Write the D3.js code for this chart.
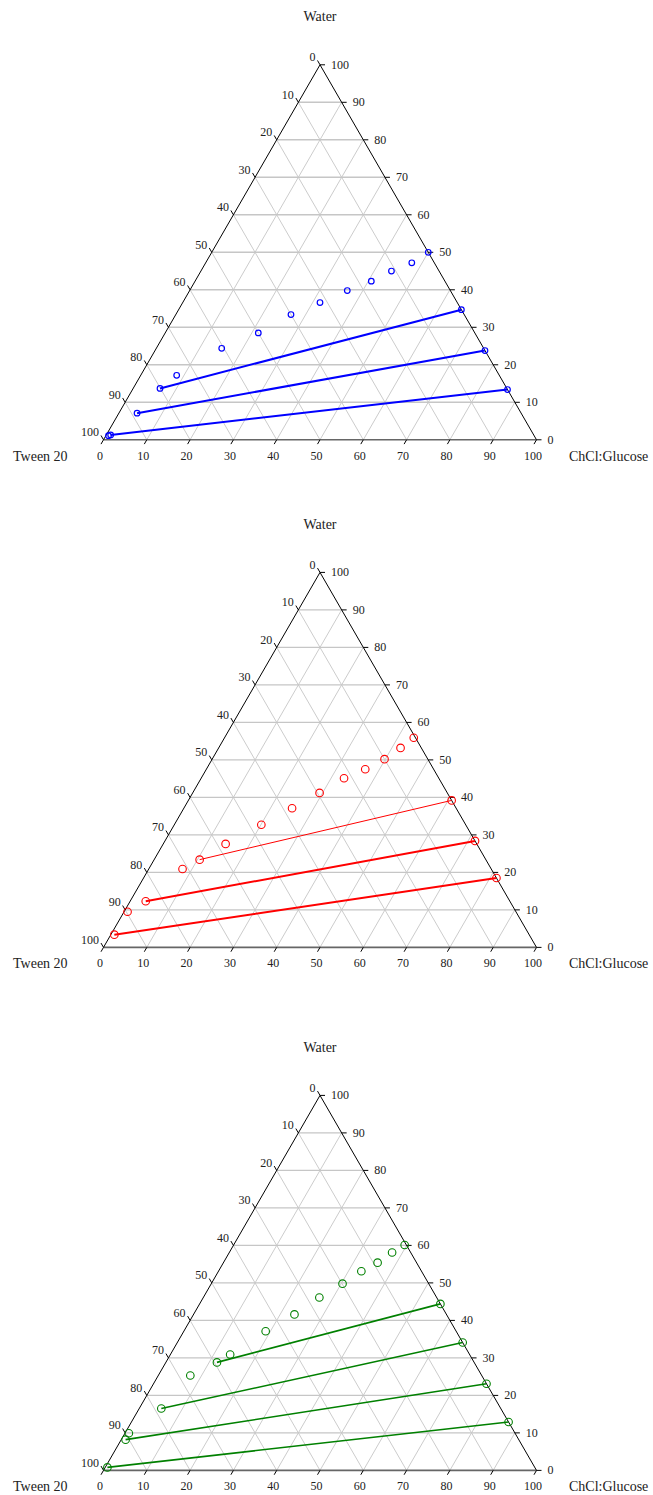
<!DOCTYPE html>
<html>
<head>
<meta charset="utf-8">
<script src="https://cdn.jsdelivr.net/npm/d3@7/dist/d3.min.js"></script>
<style>
  html, body { margin: 0; padding: 0; background: #fff; }
  svg { display: block; }
  text { font-family: "Liberation Serif", "DejaVu Serif", serif; fill: #222; }
</style>
</head>
<body>
<svg id="chart" width="653" height="1495"></svg>
<script>
// ---------- DATA (percent) ----------
const tickValues = [0, 10, 20, 30, 40, 50, 60, 70, 80, 90, 100];
const axisTitles = { top: "Water", left: "Tween 20", right: "ChCl:Glucose" };

// Plot 1 (blue) binodal points
const blueTween = [0, 5.2, 11, 17, 23.8, 31.7, 40, 50, 60.5, 74.5, 80.1, 88.7, 97.7, 98.3];
const blueChCl  = [50, 47.6, 44, 40.7, 36.4, 31.7, 26.6, 21.5, 15.1, 8.3, 6.2, 4.2, 1.0, 0.6];
const blueWater = [50, 47.2, 45, 42.3, 39.8, 36.6, 33.4, 28.5, 24.4, 17.2, 13.7, 7.1, 1.3, 1.1];
// Plot 1 tie-line ends (top phase on Water–ChCl side)
const blueTieTopTween = [0, 0, 0];
const blueTieTopChCl  = [65.3, 76.2, 86.6];
const blueTieTopWater = [34.7, 23.8, 13.4];
const blueTieBottomIndex = [10, 11, 12];
const blueTieWidth = [2, 2, 2];

// Plot 2 (red)
const redTween = [0.4, 4.8, 10.0, 15.8, 21.9, 29.5, 37.9, 47.2, 58.0, 66.1, 71.3, 84.1, 89.7, 95.8];
const redChCl  = [43.7, 42.0, 39.8, 36.7, 33.0, 29.3, 25.0, 20.1, 14.4, 10.5, 7.8, 3.6, 0.8, 0.8];
const redWater = [55.9, 53.2, 50.2, 47.5, 45.1, 41.2, 37.1, 32.7, 27.6, 23.4, 20.9, 12.3, 9.5, 3.4];
const redTieTopTween = [0, 0, 0];
const redTieTopChCl  = [60.8, 71.6, 81.5];
const redTieTopWater = [39.2, 28.4, 18.5];
const redTieBottomIndex = [9, 11, 13];
const redTieWidth = [1, 2, 2];

// Plot 3 (green)
const greenTween = [0.4, 4.3, 9.0, 13.9, 19.9, 27.1, 35.1, 44.0, 55.3, 59.4, 67.3, 78.4, 89.2, 90.8, 98.7];
const greenChCl  = [39.5, 37.6, 35.6, 33.0, 30.3, 26.8, 23.3, 18.9, 13.8, 11.8, 7.4, 5.1, 0.9, 1.0, 0.5];
const greenWater = [60.1, 58.1, 55.4, 53.1, 49.8, 46.1, 41.6, 37.1, 30.9, 28.8, 25.3, 16.5, 9.9, 8.2, 0.8];
const greenTieTopTween = [0, 0, 0, 0];
const greenTieTopChCl  = [55.6, 65.9, 76.9, 87.1];
const greenTieTopWater = [44.4, 34.1, 23.1, 12.9];
const greenTieBottomIndex = [9, 11, 13, 14];
const greenTieWidth = [1.6, 1.6, 1.6, 1.6];

// ---------- LAYOUT ----------
const svg = d3.select("#chart");
const left = 103.5, right = 536.5;
const side = right - left;
const height = side * Math.sqrt(3) / 2;

const panels = [
  { apexY: 64.8, color: "#0000ff", r: 2.8, sw: 1.2,
    tween: blueTween, chcl: blueChCl, water: blueWater,
    tt: blueTieTopTween, tc: blueTieTopChCl, tw: blueTieTopWater, ti: blueTieBottomIndex, tws: blueTieWidth },
  { apexY: 572.4, color: "#ff0000", r: 3.8, sw: 1.1,
    tween: redTween, chcl: redChCl, water: redWater,
    tt: redTieTopTween, tc: redTieTopChCl, tw: redTieTopWater, ti: redTieBottomIndex, tws: redTieWidth },
  { apexY: 1095.4, color: "#008000", r: 3.8, sw: 1.1,
    tween: greenTween, chcl: greenChCl, water: greenWater,
    tt: greenTieTopTween, tc: greenTieTopChCl, tw: greenTieTopWater, ti: greenTieBottomIndex, tws: greenTieWidth }
];

panels.forEach(p => {
  const base = p.apexY + height;
  const xs = d3.scaleLinear().domain([0, 100]).range([left, right]);
  const ys = d3.scaleLinear().domain([0, 100]).range([base, p.apexY]);
  // ternary -> cartesian (chcl, water)
  const px = (c, w) => xs(c + w / 2);
  const py = (c, w) => ys(w);
  const g = svg.append("g");

  // grid
  const grid = g.append("g");
  tickValues.filter(k => k > 0 && k < 100).forEach(k => {
    // constant ChCl
    grid.append("line")
      .attr("x1", px(k, 0)).attr("y1", py(k, 0))
      .attr("x2", px(k, 100 - k)).attr("y2", py(k, 100 - k))
      .attr("stroke", "#cccccc").attr("stroke-width", 1);
    // constant Tween
    grid.append("line")
      .attr("x1", px(100 - k, 0)).attr("y1", py(100 - k, 0))
      .attr("x2", px(0, 100 - k)).attr("y2", py(0, 100 - k))
      .attr("stroke", "#cccccc").attr("stroke-width", 1);
  });
  tickValues.filter(k => k > 0 && k < 100).forEach(k => {
    // constant Water (horizontal)
    grid.append("line")
      .attr("x1", px(0, k)).attr("y1", py(0, k))
      .attr("x2", px(100 - k, k)).attr("y2", py(100 - k, k))
      .attr("stroke", "#c6c6c6").attr("stroke-width", 1.4);
  });

  // triangle sides
  g.append("line")
    .attr("x1", px(0, 0)).attr("y1", py(0, 0))
    .attr("x2", px(100, 0)).attr("y2", py(100, 0))
    .attr("stroke", "#666").attr("stroke-width", 1.6);
  g.append("line")
    .attr("x1", px(0, 0)).attr("y1", py(0, 0))
    .attr("x2", px(0, 100)).attr("y2", py(0, 100))
    .attr("stroke", "#000").attr("stroke-width", 1);
  g.append("line")
    .attr("x1", px(100, 0)).attr("y1", py(100, 0))
    .attr("x2", px(0, 100)).attr("y2", py(0, 100))
    .attr("stroke", "#000").attr("stroke-width", 1);

  const tl = 5;
  const c60 = Math.cos(Math.PI / 3), s60 = Math.sin(Math.PI / 3);
  tickValues.forEach(v => {
    // left axis: Tween = v (0 at apex, 100 at bottom-left)
    let x = px(0, 100 - v), y = py(0, 100 - v);
    g.append("line").attr("x1", x).attr("y1", y)
      .attr("x2", x - tl * c60).attr("y2", y - tl * s60)
      .attr("stroke", "#000").attr("stroke-width", 1);
    g.append("text").attr("x", x - 4.5).attr("y", y - 3.5)
      .attr("text-anchor", "end").attr("font-size", 12).text(v);

    // right axis: Water = v
    x = px(100 - v, v); y = py(100 - v, v);
    g.append("line").attr("x1", x).attr("y1", y)
      .attr("x2", x + tl).attr("y2", y)
      .attr("stroke", "#000").attr("stroke-width", 1);
    g.append("text").attr("x", x + 11).attr("y", y + 4)
      .attr("text-anchor", "start").attr("font-size", 12).text(v);

    // bottom axis: ChCl = v
    x = px(v, 0); y = py(v, 0);
    g.append("line").attr("x1", x).attr("y1", y)
      .attr("x2", x - tl * c60).attr("y2", y + tl * s60)
      .attr("stroke", "#000").attr("stroke-width", 1);
    g.append("text").attr("x", x - 3.5).attr("y", y + 20)
      .attr("text-anchor", "middle").attr("font-size", 12).text(v);
  });

  // titles
  g.append("text").attr("x", px(0, 100)).attr("y", p.apexY - 43.5)
    .attr("text-anchor", "middle").attr("font-size", 14).text(axisTitles.top);
  g.append("text").attr("x", 13).attr("y", base + 21)
    .attr("text-anchor", "start").attr("font-size", 14).text(axisTitles.left);
  g.append("text").attr("x", 569).attr("y", base + 21)
    .attr("text-anchor", "start").attr("font-size", 14).text(axisTitles.right);

  // tie lines
  p.ti.forEach((bi, i) => {
    g.append("line")
      .attr("x1", px(p.chcl[bi], p.water[bi])).attr("y1", py(p.chcl[bi], p.water[bi]))
      .attr("x2", px(p.tc[i], p.tw[i])).attr("y2", py(p.tc[i], p.tw[i]))
      .attr("stroke", p.color).attr("stroke-width", p.tws[i]);
  });

  // points
  const pts = p.water.map((w, i) => ({ c: p.chcl[i], w: w }))
    .concat(p.tw.map((w, i) => ({ c: p.tc[i], w: w })));
  g.selectAll("circle.pt").data(pts).enter().append("circle")
    .attr("class", "pt")
    .attr("cx", d => px(d.c, d.w)).attr("cy", d => py(d.c, d.w))
    .attr("r", p.r).attr("fill", "none")
    .attr("stroke", p.color).attr("stroke-width", p.sw);
});
</script>
</body>
</html>
